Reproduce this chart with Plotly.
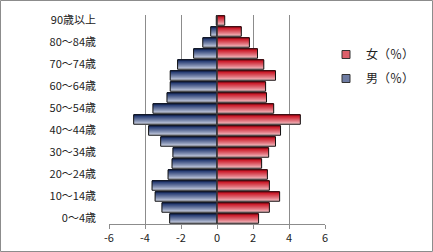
import plotly.graph_objects as go

categories = ["0～4歳", "5～9歳", "10～14歳", "15～19歳", "20～24歳", "25～29歳",
              "30～34歳", "35～39歳", "40～44歳", "45～49歳", "50～54歳", "55～59歳",
              "60～64歳", "65～69歳", "70～74歳", "75～79歳", "80～84歳", "85～89歳",
              "90歳以上"]
male = [-2.63, -3.06, -3.44, -3.61, -2.72, -2.50, -2.45, -3.13, -3.80, -4.63,
        -3.56, -2.78, -2.60, -2.60, -2.19, -1.30, -0.79, -0.35, -0.04]
female = [2.31, 2.91, 3.48, 2.91, 2.80, 2.48, 2.87, 3.25, 3.53, 4.63,
          3.15, 2.75, 2.70, 3.25, 2.60, 2.25, 1.80, 1.35, 0.43]
x_ticks = [-6, -4, -2, 0, 2, 4, 6]

W, H = 433, 252
L, R, T, B = 109, 108, 15, 28

def lerp(c1, c2, t):
    return "rgb(%d,%d,%d)" % tuple(round(a + (b - a) * t) for a, b in zip(c1, c2))

blue_top, blue_bot = (28, 50, 108), (232, 236, 246)
red_top, red_bot = (200, 14, 30), (250, 218, 222)

fig = go.Figure()
N = 10
bw = 0.86
for vals, top, bot in [(male, blue_top, blue_bot), (female, red_top, red_bot)]:
    for k in range(N):
        t = k / (N - 1)  # k=0 bottom strip
        fig.add_trace(go.Bar(
            y=categories, x=vals, orientation="h",
            width=bw / N + 0.004, offset=-bw / 2 + k * bw / N,
            marker=dict(color=lerp(bot, top, t ** 0.8), line=dict(width=0)),
            showlegend=False, hoverinfo="skip"))
    fig.add_trace(go.Bar(
        y=categories, x=vals, orientation="h", width=bw, offset=-bw / 2,
        marker=dict(color="rgba(0,0,0,0)", line=dict(color="#111111", width=1)),
        showlegend=False, hoverinfo="skip"))

# legend entries
for name, top, bot in [("女（％）", red_top, red_bot), ("男（％）", blue_top, blue_bot)]:
    fig.add_trace(go.Scatter(
        y=[None], x=[None], mode="markers", name=name, legendgroup=name,
        marker=dict(symbol="square", size=8, color=lerp(bot, top, 0.6),
                    line=dict(color="#333333", width=1))))

pw = W - L - R
ph = H - T - B
fig.add_shape(type="rect", xref="paper", yref="paper",
              x0=-(L - 0.5) / pw, x1=1 + (R - 0.5) / pw,
              y0=-(B - 0.5) / ph, y1=1 + (T - 0.5) / ph,
              line=dict(color="#8c8c8c", width=1), layer="below")
fig.add_shape(type="line", xref="x", yref="paper", x0=0, x1=0, y0=0, y1=1,
              line=dict(color="#404040", width=1.2), layer="above")

fig.update_layout(
    width=W, height=H, margin=dict(l=L, r=R, t=T, b=B, autoexpand=False),
    paper_bgcolor="white", plot_bgcolor="white",
    barmode="overlay",
    font=dict(family="Noto Sans CJK JP", size=11, color="#222222"),
    xaxis=dict(range=[-6, 6], tickvals=x_ticks, ticktext=[str(v) for v in x_ticks],
               showgrid=True, gridcolor="#8c8c8c", gridwidth=1, zeroline=False,
               showline=True, linecolor="#8c8c8c", ticks="outside", ticklen=4,
               tickcolor="#8c8c8c", fixedrange=True),
    yaxis=dict(type="category", categoryorder="array", categoryarray=categories,
               range=[-0.5, len(categories) - 0.5],
               tickvals=categories[::2], ticktext=categories[::2],
               showgrid=False, zeroline=False, showline=False, ticks="",
               ticklabelstandoff=12, fixedrange=True),
    legend=dict(xref="container", yref="container", x=326 / W, y=1 - 40 / H,
                xanchor="left", yanchor="top",
                tracegroupgap=5, bgcolor="rgba(0,0,0,0)",
                font=dict(size=12), itemwidth=30),
    showlegend=True,
)

fig.write_html("out.html")
